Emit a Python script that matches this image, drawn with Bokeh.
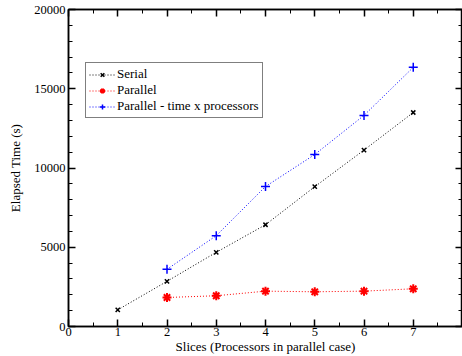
from bokeh.plotting import figure
from bokeh.models import LinearAxis, FixedTicker, Legend, LegendItem
from bokeh.embed import file_html
from bokeh.resources import INLINE

slices = [1, 2, 3, 4, 5, 6, 7]
serial = [1050, 2850, 4680, 6420, 8820, 11130, 13500]
par_x = [2, 3, 4, 5, 6, 7]
parallel = [1830, 1940, 2230, 2190, 2230, 2380]
par_tp = [3610, 5730, 8830, 10850, 13320, 16350]

x_major = [0, 1, 2, 3, 4, 5, 6, 7, 8]
x_minor = [0.5, 1.5, 2.5, 3.5, 4.5, 5.5, 6.5, 7.5]
y_major = [0, 5000, 10000, 15000, 20000]
y_minor = [v * 1000 for v in range(0, 21) if v % 5 != 0]

FONT = "Liberation Serif"

p = figure(width=462, height=356, x_range=(0, 8), y_range=(0, 20000),
           output_backend="svg", toolbar_location=None,
           min_border_left=68, min_border_right=0, min_border_top=9, min_border_bottom=0)
p.grid.visible = False
p.outline_line_color = "black"
p.outline_line_width = 1.5
p.background_fill_color = "white"
p.border_fill_color = "white"

xt = FixedTicker(ticks=x_major, minor_ticks=x_minor)
yt = FixedTicker(ticks=y_major, minor_ticks=y_minor)

def style(ax, labels=True):
    ax.axis_line_color = "black"
    ax.axis_line_width = 1.5
    ax.major_tick_line_color = "black"
    ax.minor_tick_line_color = "black"
    ax.major_tick_line_width = 1.5
    ax.minor_tick_line_width = 1
    ax.major_tick_in = 7
    ax.major_tick_out = 0
    ax.minor_tick_in = 4
    ax.minor_tick_out = 0
    ax.major_label_text_font = FONT
    ax.major_label_text_color = "black"
    ax.axis_label_text_font = FONT
    ax.axis_label_text_font_style = "normal"
    ax.axis_label_text_color = "black"
    ax.axis_label_text_font_size = "13px"
    if labels:
        ax.major_label_text_font_size = "12.5px"
        ax.major_label_standoff = 1
        ax.axis_label_standoff = 0
    else:
        ax.major_label_text_font_size = "1px"
        ax.major_label_standoff = 0
        ax.axis_label_standoff = 0

p.xaxis.ticker = xt
p.yaxis.ticker = yt
style(p.xaxis[0])
style(p.yaxis[0])
p.xaxis.axis_label = "Slices (Processors in parallel case)"
p.yaxis.axis_label = "Elapsed Time (s)"
p.xaxis.major_label_overrides = {8: ""}
p.yaxis.major_label_standoff = 3
p.yaxis.axis_label_standoff = 8

top = LinearAxis(ticker=FixedTicker(ticks=x_major, minor_ticks=x_minor))
style(top, labels=False)
top.major_label_overrides = {t: "" for t in x_major}
p.add_layout(top, "above")
right = LinearAxis(ticker=FixedTicker(ticks=y_major, minor_ticks=y_minor))
style(right, labels=False)
right.major_label_overrides = {t: "" for t in y_major}
p.add_layout(right, "right")

dash = "1 2"
l1 = p.line(slices, serial, line_color="black", line_dash=dash, line_width=1)
m1 = p.scatter(slices, serial, marker="x", size=6, line_color="black", line_width=1.5)
l2 = p.line(par_x, parallel, line_color="red", line_dash=dash, line_width=1)
m2 = p.scatter(par_x, parallel, marker="asterisk", size=9, line_color="red", line_width=2)
l3 = p.line(par_x, par_tp, line_color="blue", line_dash=dash, line_width=1)
m3 = p.scatter(par_x, par_tp, marker="cross", size=9, line_color="blue", line_width=1.5)

legend = Legend(items=[
    LegendItem(label="Serial", renderers=[l1, m1]),
    LegendItem(label="Parallel", renderers=[l2, m2]),
    LegendItem(label="Parallel - time x processors", renderers=[l3, m3]),
], location=(17, 208))
legend.label_text_font = FONT
legend.label_text_font_size = "13px"
legend.label_text_color = "black"
legend.label_height = 13
legend.label_standoff = 2
legend.glyph_width = 26
legend.glyph_height = 13
legend.spacing = 0
legend.padding = 3
legend.margin = 0
legend.border_line_color = "black"
legend.border_line_width = 1.5
legend.background_fill_color = "white"
legend.background_fill_alpha = 1
p.add_layout(legend, "center")

open("out.html", "w").write(file_html(p, INLINE))
